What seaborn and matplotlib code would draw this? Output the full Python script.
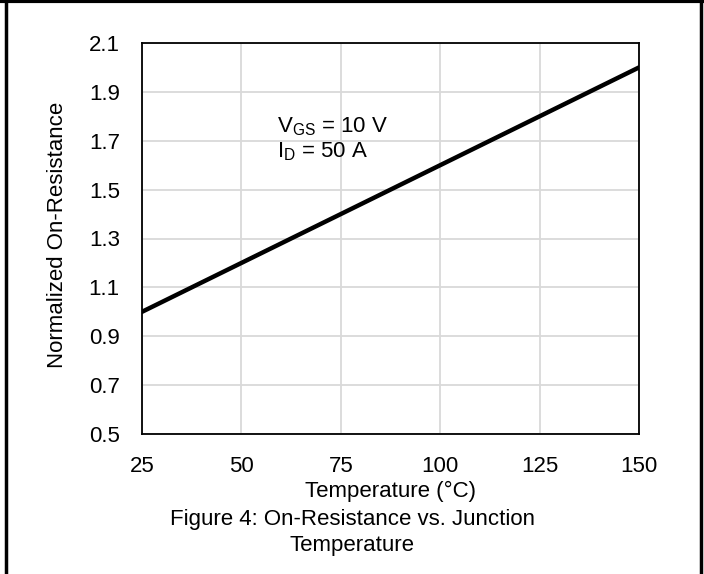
import matplotlib
matplotlib.use("Agg")
from matplotlib import pyplot as plt
import seaborn as sb
import pandas as pd

# data
temperature = [25, 150]
norm_rds_on = [1.0, 2.0]
x_ticks = [25, 50, 75, 100, 125, 150]
y_ticks = [0.5, 0.7, 0.9, 1.1, 1.3, 1.5, 1.7, 1.9, 2.1]

df = pd.DataFrame({"Temperature": temperature, "RDS": norm_rds_on})

sb.set_theme(style="white")
plt.rcParams['font.family'] = ['Liberation Sans', 'DejaVu Sans']
FS = 16

fig = plt.figure(figsize=(7.04, 5.74), dpi=100)
ax = fig.add_axes([142/704, 1 - 434/574, (639 - 142)/704, (434 - 43)/574])

sb.lineplot(data=df, x="Temperature", y="RDS", color="black", linewidth=3.2, ax=ax)

ax.set_xlim(25, 150)
ax.set_ylim(0.5, 2.1)
ax.set_xticks(x_ticks)
ax.set_yticks(y_ticks)
ax.set_yticklabels([f"{v:.1f}" for v in y_ticks])
ax.grid(True, color="#d9d9d9", linewidth=1.3)
ax.set_axisbelow(True)
for s in ax.spines.values():
    s.set_color("black")
    s.set_linewidth(1.3)
ax.tick_params(axis="both", length=0, labelsize=FS, colors="black", pad=16)

ax.set_xlabel("Temperature (°C)", fontsize=FS, color="black")
ax.xaxis.set_label_coords(0.5, -0.12)
ax.set_ylabel("Normalized On-Resistance", fontsize=FS, color="black")
ax.yaxis.set_label_coords(-0.148, 0.51)

ax.text(0.272, 0.772, "V$_{\\mathregular{GS}}$ = 10 V", transform=ax.transAxes,
        fontsize=FS, color="black", va="baseline")
ax.text(0.272, 0.708, "I$_{\\mathregular{D}}$ = 50 A", transform=ax.transAxes,
        fontsize=FS, color="black", va="baseline")

fig.text(0.5, 1 - 520/574, "Figure 4: On-Resistance vs. Junction", ha="center",
         va="center", fontsize=FS, color="black")
fig.text(0.5, 1 - 545/574, "Temperature", ha="center", va="center",
         fontsize=FS, color="black")

# outer frame (top, left, right)
fig.add_artist(plt.Line2D([6/704, 6/704], [0, 1], color="black", linewidth=2.5))
fig.add_artist(plt.Line2D([701/704, 701/704], [0, 1], color="black", linewidth=2.5))
fig.add_artist(plt.Line2D([0, 1], [1 - 1/574, 1 - 1/574], color="black", linewidth=3))

fig.savefig("out.png", dpi=100)
